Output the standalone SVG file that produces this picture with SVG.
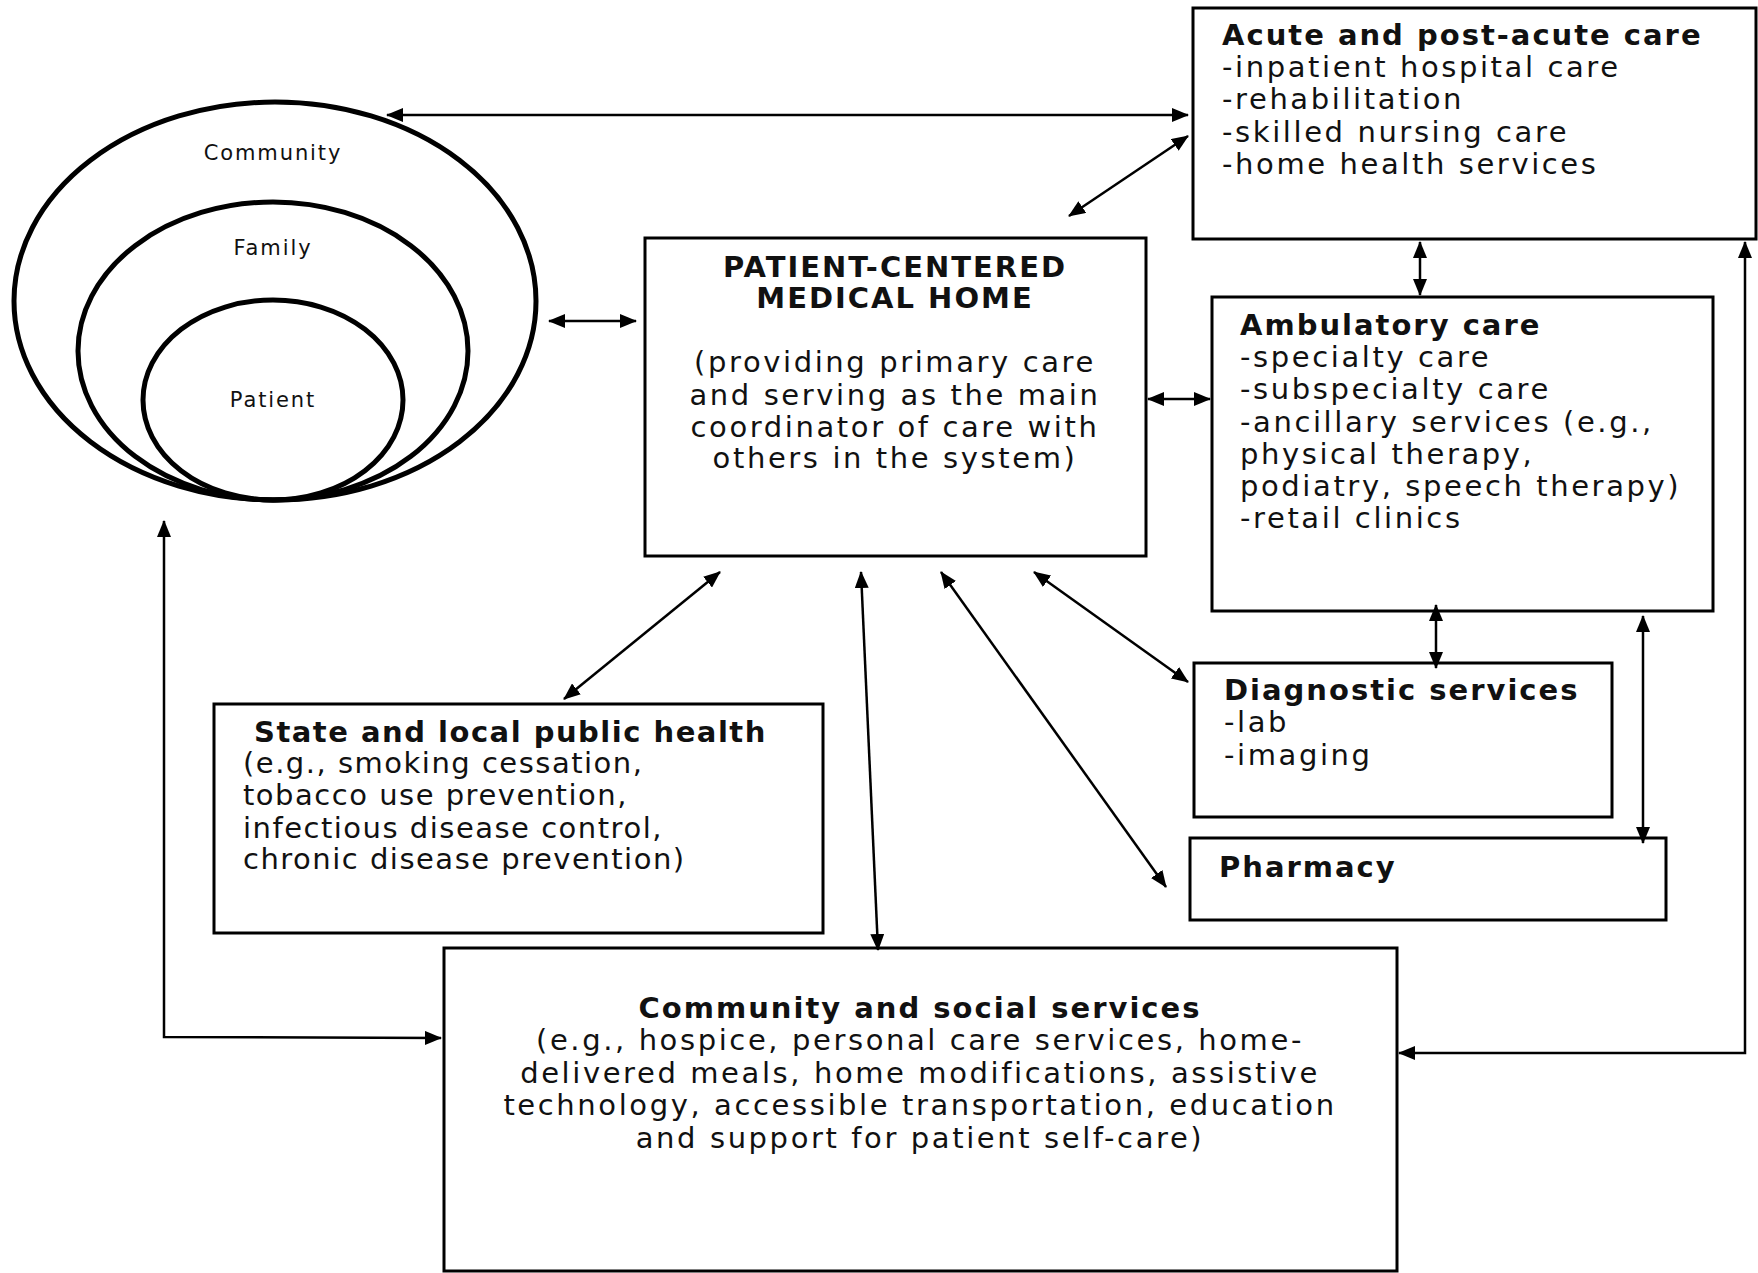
<svg xmlns="http://www.w3.org/2000/svg" width="1758" height="1273" viewBox="0 0 1758 1273">
  <defs>
    <style>
      .box { fill: #fff; stroke: #000; stroke-width: 3; }
      .ring { fill: none; stroke: #000; stroke-width: 5; }
      .t { font-family: "DejaVu Sans", "Liberation Sans", sans-serif; font-size: 29px; letter-spacing: 2.6px; fill: #111; }
      .b { font-weight: bold; letter-spacing: 2px; }
      .ph { letter-spacing: 1.5px; }
      .c { text-anchor: middle; }
      .small { font-family: "DejaVu Sans", "Liberation Sans", sans-serif; font-size: 21px; letter-spacing: 1.9px; fill: #111; text-anchor: middle; }
      .link { fill: none; stroke: #000; stroke-width: 2.5; marker-start: url(#ah); marker-end: url(#ah); }
    </style>
    <marker id="ah" viewBox="0 0 17 14" refX="16" refY="7" markerWidth="17" markerHeight="14" markerUnits="userSpaceOnUse" orient="auto-start-reverse">
      <path d="M0,0 L17,7 L0,14 z" fill="#000"/>
    </marker>
  </defs>

  <rect width="1758" height="1273" fill="#fff"/>

  <!-- nested circles: community, family, patient -->
  <g id="circles">
    <ellipse class="ring" cx="275" cy="301" rx="261" ry="199"/>
    <ellipse class="ring" cx="273" cy="351" rx="195" ry="149"/>
    <ellipse class="ring" cx="273" cy="400" rx="130" ry="100"/>
    <text class="small" x="273" y="160">Community</text>
    <text class="small" x="273" y="255">Family</text>
    <text class="small" x="273" y="407">Patient</text>
  </g>

  <g id="acute">
    <rect class="box" x="1193" y="8" width="563" height="231"/>
    <text class="t b" x="1222" y="45">Acute and post-acute care</text>
    <text class="t" x="1222" y="77">-inpatient hospital care</text>
    <text class="t" x="1222" y="109">-rehabilitation</text>
    <text class="t" x="1222" y="142">-skilled nursing care</text>
    <text class="t" x="1222" y="174">-home health services</text>
  </g>

  <g id="pcmh">
    <rect class="box" x="645" y="238" width="501" height="318"/>
    <text class="t b c" x="895" y="277">PATIENT-CENTERED</text>
    <text class="t b c" x="895" y="308">MEDICAL HOME</text>
    <text class="t c" x="895" y="372">(providing primary care</text>
    <text class="t c" x="895" y="405">and serving as the main</text>
    <text class="t c" x="895" y="437">coordinator of care with</text>
    <text class="t c" x="895" y="468">others in the system)</text>
  </g>

  <g id="ambulatory">
    <rect class="box" x="1212" y="297" width="501" height="314"/>
    <text class="t b" x="1240" y="335">Ambulatory care</text>
    <text class="t" x="1240" y="367">-specialty care</text>
    <text class="t" x="1240" y="399">-subspecialty care</text>
    <text class="t" x="1240" y="432">-ancillary services (e.g.,</text>
    <text class="t" x="1240" y="464">physical therapy,</text>
    <text class="t" x="1240" y="496">podiatry, speech therapy)</text>
    <text class="t" x="1240" y="528">-retail clinics</text>
  </g>

  <g id="diagnostic">
    <rect class="box" x="1194" y="663" width="418" height="154"/>
    <text class="t b" x="1224" y="700">Diagnostic services</text>
    <text class="t" x="1224" y="732">-lab</text>
    <text class="t" x="1224" y="765">-imaging</text>
  </g>

  <g id="pharmacy">
    <rect class="box" x="1190" y="838" width="476" height="82"/>
    <text class="t b" x="1219" y="877">Pharmacy</text>
  </g>

  <g id="public-health">
    <rect class="box" x="214" y="704" width="609" height="229"/>
    <text class="t b ph" x="254" y="742">State and local public health</text>
    <text class="t ph" x="243" y="773">(e.g., smoking cessation,</text>
    <text class="t ph" x="243" y="805">tobacco use prevention,</text>
    <text class="t ph" x="243" y="838">infectious disease control,</text>
    <text class="t ph" x="243" y="869">chronic disease prevention)</text>
  </g>

  <g id="community-services">
    <rect class="box" x="444" y="948" width="953" height="323"/>
    <text class="t b c" x="920" y="1018">Community and social services</text>
    <text class="t c" x="920" y="1050">(e.g., hospice, personal care services, home-</text>
    <text class="t c" x="920" y="1083">delivered meals, home modifications, assistive</text>
    <text class="t c" x="920" y="1115">technology, accessible transportation, education</text>
    <text class="t c" x="920" y="1148">and support for patient self-care)</text>
  </g>

  <!-- two-way connectors -->
  <g id="connectors">
    <path class="link" d="M387,115 L1188,115"/>
    <path class="link" d="M1069,216 L1188,136"/>
    <path class="link" d="M549,321 L636,321"/>
    <path class="link" d="M1148,399 L1210,399"/>
    <path class="link" d="M1420,242 L1420,295"/>
    <path class="link" d="M720,572 L564,699"/>
    <path class="link" d="M861,572 L878,950"/>
    <path class="link" d="M941,572 L1166,887"/>
    <path class="link" d="M1034,572 L1188,682"/>
    <path class="link" d="M164,521 L164,1037 L441,1038"/>
    <path class="link" d="M1745,242 L1745,1053 L1399,1053"/>
    <path class="link" d="M1436,605 L1436,668"/>
    <path class="link" d="M1643,616 L1643,843"/>
  </g>
</svg>
